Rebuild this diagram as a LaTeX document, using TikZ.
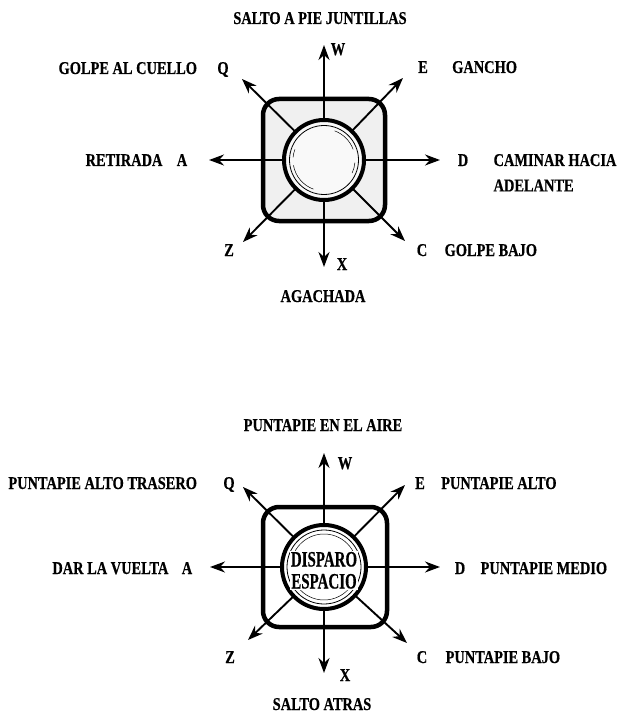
\documentclass[tikz,border=0pt]{standalone}
\usepackage{fontspec}
\setmainfont{Liberation Serif}[FakeStretch=0.8, FakeBold=0.5]
\newfontfamily\btnfont{Liberation Serif}[FakeStretch=0.68, FakeBold=0.5]
\usetikzlibrary{arrows.meta, positioning}

\begin{document}
\begin{tikzpicture}[
            x=1pt, y=-1pt,
            lbl/.style={font=\fontsize{18}{20}\selectfont\bfseries, inner sep=0pt, text height=12pt, text depth=0pt},
            btn/.style={font=\btnfont\fontsize{22}{24}\selectfont\bfseries, fill=white, inner sep=1pt, text height=15pt, text depth=0pt},
            pad/.style={draw, line width=4.5pt, rounded corners=16pt},
            knob/.style={circle, draw, line width=4pt, minimum size=80pt, inner sep=0pt},
            arrow/.style={line width=1.9pt, -{Stealth[length=15pt, width=11pt]}}
        ]
            \useasboundingbox (0,0) rectangle (623,714);

            % upper joystick
            \coordinate (u) at (324,160);
            \draw[pad, fill=gray!12] (263,99) rectangle (385,221);
            \foreach \nm/\dx/\dy in {w/0/-115, e/79/-82, d/116/0, c/81/81, x/0/107, z/-81/82, a/-115/0, q/-82/-81}
                \coordinate (u\nm) at ([shift={(\dx,\dy)}]u);
            \foreach \nm in {w,e,d,c,x,z,a,q}
                \draw[arrow] (u) -- (u\nm);
            \node[knob, fill=gray!5] (uknob) at (u) {};
            \draw[line width=0.8pt] (u) circle (34.5);
            \draw[line width=0.5pt] ([shift={(110:31)}]u) arc (110:170:31);
            \draw[line width=0.5pt] ([shift={(290:31)}]u) arc (290:340:31);
            \draw[line width=0.5pt] ([shift={(185:31)}]u) arc (185:200:31);
            \draw[line width=0.5pt] ([shift={(5:31)}]u) arc (5:25:31);

            \node[lbl] (utitle) at (320,18) {SALTO A PIE JUNTILLAS};
            \node[lbl] (ukw) at (338,49) {W};
            \node[lbl] (ukq) at (223,68) {Q};
            \node[lbl] (uke) at (423,67) {E};
            \node[lbl] (uka) at (182,160) {A};
            \node[lbl] (ukd) at (463,160) {D};
            \node[lbl] (ukz) at (229,250) {Z};
            \node[lbl] (ukc) at (422,250) {C};
            \node[lbl] (ukx) at (342,264) {X};
            \node[lbl, left=20pt of ukq] (ucuello) {GOLPE AL CUELLO};
            \node[lbl, right=24pt of uke] (ugancho) {GANCHO};
            \node[lbl, left=14pt of uka] (uretirada) {RETIRADA};
            \node[lbl, right=25pt of ukd] (ucaminar) {CAMINAR HACIA};
            \node[lbl, below=13pt of ucaminar.south west, anchor=north west] (uadelante) {ADELANTE};
            \node[lbl, right=17pt of ukc] (ubajo) {GOLPE BAJO};
            \node[lbl] (uagachada) at (323,296) {AGACHADA};

            % lower joystick
            \coordinate (l) at (324,567);
            \draw[pad, fill=white] (263,507) rectangle (387,627);
            \foreach \nm/\dx/\dy in {w/0/-114, e/81/-82, d/116/0, c/83/76, x/0/106, z/-76/73, a/-114/0, q/-81/-80}
                \coordinate (l\nm) at ([shift={(\dx,\dy)}]l);
            \foreach \nm in {w,e,d,c,x,z,a,q}
                \draw[arrow] (l) -- (l\nm);
            \node[knob, fill=white, minimum size=84pt] (lknob) at (l) {};
            \draw[line width=0.8pt] (l) circle (37);
            \draw[line width=0.5pt] ([shift={(200:33)}]l) arc (200:340:33);
            \draw[line width=0.5pt] ([shift={(20:33)}]l) arc (20:160:33);
            \node[btn] (ldisparo) at (324,559) {DISPARO};
            \node[btn] (lespacio) at (324,581) {ESPACIO};

            \node[lbl] (ltitle) at (323,425) {PUNTAPIE EN EL AIRE};
            \node[lbl] (lkw) at (345,463) {W};
            \node[lbl] (lkq) at (229,483) {Q};
            \node[lbl] (lke) at (420,483) {E};
            \node[lbl] (lka) at (187,568) {A};
            \node[lbl] (lkd) at (460,568) {D};
            \node[lbl] (lkz) at (230,657) {Z};
            \node[lbl] (lkc) at (422,657) {C};
            \node[lbl] (lkx) at (345,675) {X};
            \node[lbl, left=26pt of lkq] (ltrasero) {PUNTAPIE ALTO TRASERO};
            \node[lbl, right=16pt of lke] (lalto) {PUNTAPIE ALTO};
            \node[lbl, left=13pt of lka] (lvuelta) {DAR LA VUELTA};
            \node[lbl, right=15pt of lkd] (lmedio) {PUNTAPIE MEDIO};
            \node[lbl, right=18pt of lkc] (lbajo) {PUNTAPIE BAJO};
            \node[lbl] (latras) at (322,704) {SALTO ATRAS};
        \end{tikzpicture}
\end{document}
